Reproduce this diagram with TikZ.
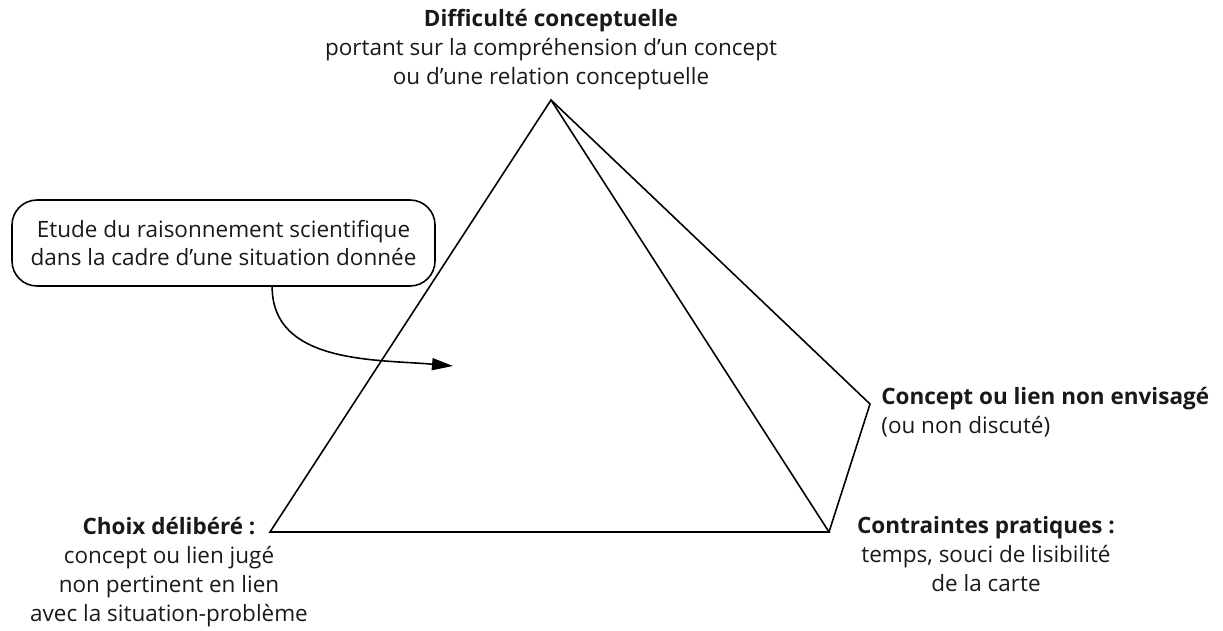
\documentclass[tikz,border=0pt]{standalone}
\usepackage{fontspec}
\setmainfont{Open Sans}
\usetikzlibrary{arrows.meta}

\begin{document}
\begin{tikzpicture}[
  edge/.style={line width=0.9pt, line join=miter},
  lbl/.style={inner sep=0pt, align=center, font=\fontsize{12.8}{16.5}\selectfont},
  callout/.style={draw, line width=0.9pt, rounded corners=0.5cm, minimum width=8.46cm, minimum height=1.72cm, inner sep=0pt, align=center, font=\fontsize{12.8}{15.5}\selectfont},
  every node/.style={text=black!90}
]
\useasboundingbox (0,0) rectangle (24.46,12.6);

% triangle and side wing
\coordinate (apex) at (11.02,10.60);
\coordinate (left) at (5.40,1.96);
\coordinate (right) at (16.58,1.96);
\coordinate (outer) at (17.40,4.52);

\draw[edge] (apex) -- (left) -- (right) -- cycle;
\draw[edge] (apex) -- (outer) -- (right);

\node[lbl, anchor=base] (difficulty) at (11.02,10.92) {\textbf{Difficulté conceptuelle}\\portant sur la compréhension d’un concept\\ou d’une relation conceptuelle};
\node[lbl, anchor=base west, align=left] (unseen) at (17.62,3.94) {\textbf{Concept ou lien non envisagé}\\(ou non discuté)};
\node[lbl, anchor=base] (practical) at (19.72,0.78) {\textbf{Contraintes pratiques :}\\temps, souci de lisibilité\\de la carte};
\node[lbl, anchor=base] (deliberate) at (3.38,0.18) {\textbf{Choix délibéré :}\\concept ou lien jugé\\non pertinent en lien\\avec la situation-problème};

\node[callout] (study) at (4.47,7.74) {Etude du raisonnement scientifique\\dans la cadre d’une situation donnée};
\coordinate (inside) at (9.06,5.28);
\draw[edge, -{Triangle[length=0.42cm, width=0.24cm]}] (study.-42) to[out=-90, in=175] (inside);

\end{tikzpicture}
\end{document}
